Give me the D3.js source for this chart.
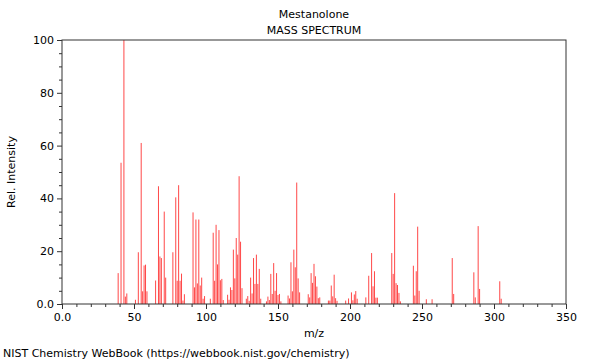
<!DOCTYPE html>
<html>
<head>
<meta charset="utf-8">
<script src="https://cdn.jsdelivr.net/npm/d3@7"></script>
<style>
  html, body { margin: 0; padding: 0; background: #fff; }
  svg { display: block; font-family: "DejaVu Sans", sans-serif; }
</style>
</head>
<body>
<svg id="chart" width="600" height="360"></svg>
<script>
const mz = [39,41,43,44,45,51,53,55,56,57,58,59,65,67,68,69,71,72,77,79,80,81,82,83,84,85,
  91,92,93,94,95,96,97,98,99,103,105,106,107,108,109,110,111,112,115,116,117,118,119,120,121,122,123,124,125,
  128,129,130,131,132,133,134,135,136,137,138,142,143,144,145,146,147,148,149,150,151,152,
  157,158,159,160,161,162,163,164,165,171,172,173,174,175,176,177,178,179,185,186,187,188,189,190,191,
  197,199,201,202,203,204,205,211,213,215,216,217,218,219,229,230,231,232,233,234,235,
  244,245,246,247,248,253,257,271,272,286,287,289,290,304,305];
const intensity = [11.7,53.5,100,2.8,4,1.6,19.6,61,4.8,14.6,14.9,4.8,8.9,44.6,18,17.4,35,10,19.6,40.4,8.8,45,8.8,11.5,1.3,3.7,
  34.7,6.3,32,7.8,32,7,10,2,3,2,27,8.8,30,15,28,9,9.5,1.5,3.5,1.6,6.3,5.3,20.6,9.7,25,18.7,48.4,23.6,6,
  2,3,1.2,10,4,17.4,7.6,18.7,7.6,13.3,2,1,2.8,1.5,11.4,3.8,15.5,5,11.7,3.4,3.8,1,
  3.2,2.1,15.8,4.8,20.6,13.9,46,9.7,4.4,3.7,2.5,11.7,8,15.2,10.5,6.6,2.2,2.5,1.3,1.3,7,2.9,11.1,2.2,1.2,
  1.3,2.1,4.4,1.4,3.6,4.9,2,2.5,10.7,19.3,6.7,12.4,2.4,2.4,19.3,11.4,42,7.9,7.2,4.2,1,
  14.5,3.2,12.4,29.3,5,1.8,1.8,17.4,3.8,12,2.5,29.5,5.7,8.6,2];
const xMajorTicks = [0,50,100,150,200,250,300,350];
const xTickLabels = ["0.0","50","100","150","200","250","300","350"];
const yMajorTicks = [0,20,40,60,80,100];
const yTickLabels = ["0.0","20","40","60","80","100"];
const titleLines = ["Mestanolone","MASS SPECTRUM"];
const xTitle = "m/z";
const yTitle = "Rel. Intensity";
const footer = "NIST Chemistry WebBook (https://webbook.nist.gov/chemistry)";

const svg = d3.select("#chart");
const L = 62, R = 566, T = 40, B = 304;
const x = d3.scaleLinear().domain([0, 350]).range([L, R]);
const y = d3.scaleLinear().domain([0, 100]).range([B, T]);

// peaks
svg.append("g").selectAll("line").data(mz).join("line")
  .attr("x1", d => x(d)).attr("x2", d => x(d))
  .attr("y1", y(0)).attr("y2", (d, i) => y(intensity[i]))
  .attr("stroke", "#ff0000").attr("stroke-opacity", 0.72).attr("stroke-width", 1);

// frame
svg.append("rect").attr("x", L).attr("y", T).attr("width", R - L).attr("height", B - T)
  .attr("fill", "none").attr("stroke", "#333").attr("stroke-width", 1);

function styleAxis(g) {
  g.select(".domain").remove();
  g.selectAll("line").attr("stroke", "#333");
  g.selectAll("text").attr("font-size", 11).attr("fill", "#000").attr("font-family", "DejaVu Sans, sans-serif");
}

// x axis minor
const xMinor = d3.range(0, 351, 10).filter(v => v % 50 !== 0);
svg.append("g").attr("transform", `translate(0,${B})`)
  .call(d3.axisBottom(x).tickValues(xMinor).tickSize(3).tickFormat(""))
  .call(styleAxis);
svg.append("g").attr("transform", `translate(0,${B})`)
  .call(d3.axisBottom(x).tickValues(xMajorTicks).tickSize(5).tickPadding(4)
    .tickFormat((d, i) => xTickLabels[i]))
  .call(styleAxis);

// y axis
const yMinor = d3.range(0, 101, 5).filter(v => v % 20 !== 0);
svg.append("g").attr("transform", `translate(${L},0)`)
  .call(d3.axisLeft(y).tickValues(yMinor).tickSize(3).tickFormat(""))
  .call(styleAxis);
svg.append("g").attr("transform", `translate(${L},0)`)
  .call(d3.axisLeft(y).tickValues(yMajorTicks).tickSize(5).tickPadding(3)
    .tickFormat((d, i) => yTickLabels[i]))
  .call(styleAxis);

// titles
svg.append("g").selectAll("text").data(titleLines).join("text")
  .attr("x", 314).attr("y", (d, i) => 18 + i * 16)
  .attr("text-anchor", "middle").attr("font-size", 11).attr("fill", "#000")
  .text(d => d);

svg.append("text").attr("x", 314).attr("y", 337).attr("text-anchor", "middle")
  .attr("font-size", 11).attr("fill", "#000").text(xTitle);

svg.append("text").attr("transform", `translate(15,${(T + B) / 2}) rotate(-90)`)
  .attr("text-anchor", "middle").attr("font-size", 11).attr("fill", "#000").text(yTitle);

svg.append("text").attr("x", 3).attr("y", 357).attr("font-size", 11).attr("fill", "#000").text(footer);
</script>
</body>
</html>
